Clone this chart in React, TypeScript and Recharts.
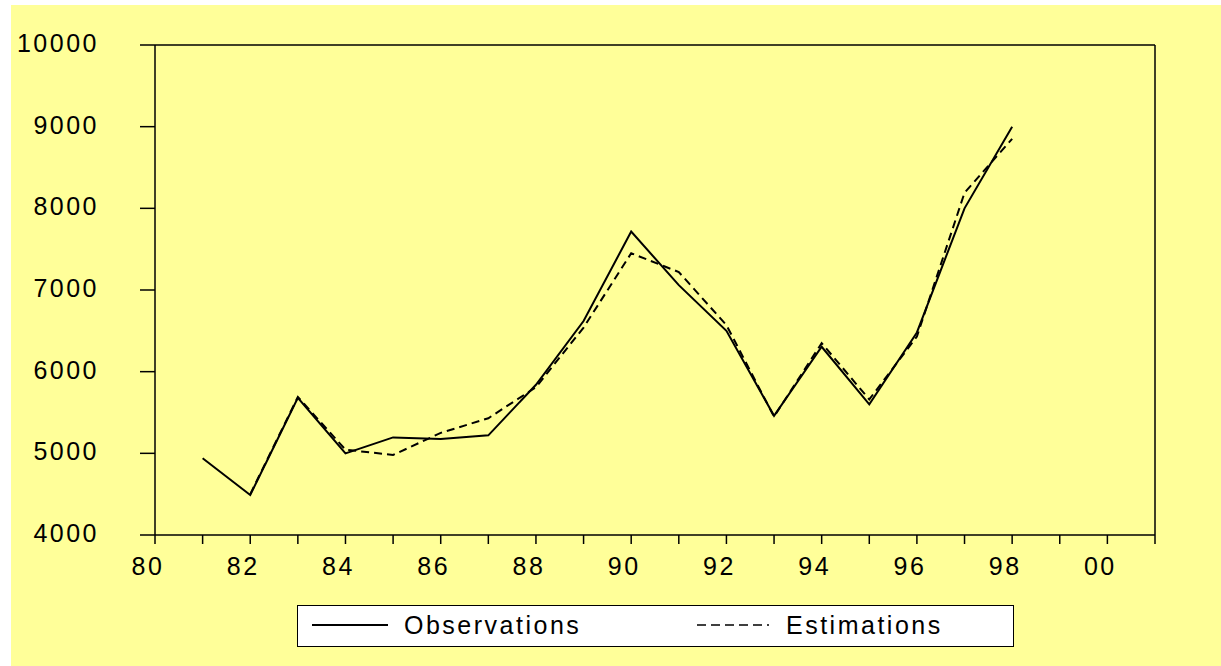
import React from "react";
import { LineChart, Line, XAxis, YAxis } from "recharts";

// years 1981..1998
const years = [1981, 1982, 1983, 1984, 1985, 1986, 1987, 1988, 1989, 1990, 1991, 1992, 1993, 1994, 1995, 1996, 1997, 1998];
const observations = [4940, 4490, 5680, 5000, 5195, 5175, 5220, 5840, 6620, 7715, 7060, 6500, 5460, 6305, 5600, 6480, 8000, 9000];
const estimations = [null, 4500, 5690, 5045, 4980, 5250, 5430, 5810, 6540, 7450, 7220, 6570, 5450, 6350, 5660, 6430, 8190, 8850];

const xTicks = [1980, 1981, 1982, 1983, 1984, 1985, 1986, 1987, 1988, 1989, 1990, 1991, 1992, 1993, 1994, 1995, 1996, 1997, 1998, 1999, 2000, 2001];
const yTicks = [4000, 5000, 6000, 7000, 8000, 9000, 10000];
const seriesNames = ["Observations", "Estimations"];

const data = years.map((year, i) => ({
  year,
  obs: observations[i],
  est: estimations[i],
}));

const FONT = "'Liberation Sans', Arial, sans-serif";
const BG = "#FFFF99";

const xLabel = (y: number) => (y % 2 === 0 && y <= 2000 ? String(y % 100).padStart(2, "0") : "");

const XTick = (props: any) => {
  const { x, y, payload } = props;
  return (
    <text x={x - 7} y={y} dy="0.71em" textAnchor="middle" fontSize={25} letterSpacing={2.5} fill="#000" fontFamily={FONT}>
      {xLabel(payload.value)}
    </text>
  );
};

const YTick = (props: any) => {
  const { x, y, payload } = props;
  return (
    <text x={x} y={y - 2} dy="0.355em" textAnchor="end" fontSize={25} letterSpacing={2.5} fill="#000" fontFamily={FONT}>
      {payload.value}
    </text>
  );
};

const axisLine = { stroke: "#000", strokeWidth: 1.5 };

export default function App() {
  return (
    <div style={{ position: "fixed", left: 11, top: 5, width: 1210, height: 661, background: BG }}>
      <LineChart width={1210} height={661} data={data} margin={{ top: 39, right: 65, left: 0, bottom: 71 }}>
        <XAxis
          dataKey="year"
          type="number"
          domain={[1980, 2001]}
          ticks={xTicks}
          interval={0}
          tick={<XTick />}
          tickSize={9}
          tickMargin={13}
          height={60}
          axisLine={axisLine}
          tickLine={axisLine}
        />
        <XAxis
          xAxisId="top"
          dataKey="year"
          type="number"
          domain={[1980, 2001]}
          orientation="top"
          height={1}
          tick={false}
          tickLine={false}
          axisLine={axisLine}
        />
        <YAxis
          domain={[4000, 10000]}
          ticks={yTicks}
          interval={0}
          tick={<YTick />}
          tickSize={15}
          tickMargin={41}
          width={144}
          axisLine={axisLine}
          tickLine={axisLine}
        />
        <YAxis
          yAxisId="right"
          orientation="right"
          domain={[4000, 10000]}
          width={1}
          tick={false}
          tickLine={false}
          axisLine={axisLine}
        />
        <Line
          type="linear"
          dataKey="obs"
          name={seriesNames[0]}
          stroke="#000"
          strokeWidth={2}
          dot={false}
          isAnimationActive={false}
        />
        <Line
          type="linear"
          dataKey="est"
          name={seriesNames[1]}
          stroke="#000"
          strokeWidth={2}
          strokeDasharray="8 5"
          dot={false}
          connectNulls={false}
          isAnimationActive={false}
        />
      </LineChart>
      <div
        style={{
          position: "absolute",
          left: 286,
          top: 600,
          width: 715,
          height: 40,
          background: "#fff",
          border: "1.5px solid #000",
          fontFamily: FONT,
          fontSize: 25,
          letterSpacing: 2.5,
          color: "#000",
        }}
      >
        <svg width={80} height={10} style={{ position: "absolute", left: 14, top: 14 }}>
          <line x1={0} y1={5} x2={76} y2={5} stroke="#000" strokeWidth={2} />
        </svg>
        <span style={{ position: "absolute", left: 106, top: 5, lineHeight: "29px" }}>{seriesNames[0]}</span>
        <svg width={80} height={10} style={{ position: "absolute", left: 399, top: 14 }}>
          <line x1={0} y1={5} x2={72} y2={5} stroke="#000" strokeWidth={1.5} strokeDasharray="9 5" />
        </svg>
        <span style={{ position: "absolute", left: 488, top: 5, lineHeight: "29px" }}>{seriesNames[1]}</span>
      </div>
    </div>
  );
}
